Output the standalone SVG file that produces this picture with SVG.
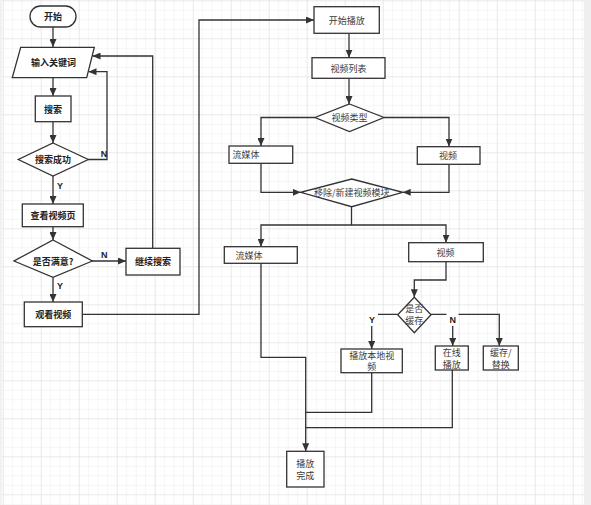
<svg xmlns="http://www.w3.org/2000/svg" width="591" height="505" viewBox="0 0 591 505">
<defs>
<pattern id="minor" x="2.7" y="0.3" width="9.5" height="9.5" patternUnits="userSpaceOnUse">
<path d="M0,0 H9.5 M0,0 V9.5" fill="none" stroke="#ececec" stroke-width="1"/>
</pattern>
<pattern id="major" x="2.7" y="0.3" width="38" height="38" patternUnits="userSpaceOnUse">
<path d="M0,0 H38 M0,0 V38" fill="none" stroke="#dfdfdf" stroke-width="1"/>
</pattern>
<marker id="arr" markerWidth="8" markerHeight="7" refX="8" refY="3.5" orient="auto" markerUnits="userSpaceOnUse">
<path d="M0,0 L8,3.5 L0,7 z" fill="#333"/>
</marker>
</defs>
<style>
.shape{fill:#fff;stroke:#333;stroke-width:1.3}
.conn path{fill:none;stroke:#333;stroke-width:1.3}
.arrow{marker-end:url(#arr)}
text{font-family:"Noto Sans CJK SC","Noto Sans",sans-serif;font-size:9px;text-anchor:middle;dominant-baseline:central}
.l{font-weight:bold;fill:#222}
.r{fill:#3a3a3a}
.lab{font-family:"Liberation Sans",sans-serif;font-weight:bold;font-size:9px;fill:#222}
</style>
<rect width="591" height="505" fill="#fff"/>
<rect width="584" height="505" fill="url(#minor)"/>
<rect width="584" height="505" fill="url(#major)"/>
<rect x="584" y="0" width="7" height="505" fill="#efefef"/>
<rect x="0" y="0" width="2" height="505" fill="#f2f2f2"/>

<g class="conn" id="connectors">
<path class="arrow" d="M53,27 V47"/>
<path class="arrow" d="M53,78 V96"/>
<path class="arrow" d="M53,122 V143"/>
<path class="arrow" d="M88,159.5 H107 V71.7 H88.5"/>
<path class="arrow" d="M53,176 V204"/>
<path class="arrow" d="M53,227 V240"/>
<path class="arrow" d="M92,261 H126"/>
<path class="arrow" d="M152.7,248.3 V56 H92.5"/>
<path class="arrow" d="M53,277.3 V302"/>
<path class="arrow" d="M82.3,314.3 H199 V20 H314"/>
<path class="arrow" d="M349,33.3 V57.7"/>
<path class="arrow" d="M349,78.3 V104"/>
<path class="arrow" d="M315,117.5 H261 V146"/>
<path class="arrow" d="M384,117.5 H449 V146.5"/>
<path class="arrow" d="M261,163.3 V192.3 H300.7"/>
<path class="arrow" d="M449,164.3 V192.3 H402.7"/>
<path class="arrow" d="M351.5,206.7 V225 H261 V246.7"/>
<path class="arrow" d="M351.5,225 H446 V242.7"/>
<path class="arrow" d="M446,261.7 V280 H414.3 V297.3"/>
<path class="arrow" d="M397.7,314.3 H371.7 V349"/>
<path class="arrow" d="M431,314.3 H499.3 V346"/>
<path class="arrow" d="M452.7,314.3 V346"/>
<path class="arrow" d="M261,263.3 V357.3 H305.7 V451.3"/>
<path d="M371.7,372.7 V412.3 H305.7"/>
<path d="M452.3,370 V427.7 H305.7"/>
<text class="lab" x="104" y="154">N</text>
<text class="lab" x="60" y="186">Y</text>
<text class="lab" x="104.3" y="255">N</text>
<text class="lab" x="60" y="286">Y</text>
<rect x="366" y="313" width="12" height="13" fill="#fff"/>
<text class="lab" x="372" y="319.5">Y</text>
<rect x="446.5" y="313" width="12" height="13" fill="#fff"/>
<text class="lab" x="452.7" y="320">N</text>
</g>

<g id="start"><rect class="shape" x="30" y="6" width="46" height="21" rx="10.5"/><text class="l" x="53" y="16.5">开始</text></g>
<g id="input"><path class="shape" d="M20.7,47.3 L94.3,47.3 L86.7,77.7 L12.3,77.7 Z"/><text class="l" x="53.5" y="62.5">输入关键词</text></g>
<g id="search"><rect class="shape" x="35.3" y="96" width="35.7" height="25.7"/><text class="l" x="53" y="109">搜索</text></g>
<g id="searchok"><path class="shape" d="M53,143 L88.3,159.5 L53,176 L18.3,159.5 Z"/><text class="l" x="53" y="159.5">搜索成功</text></g>
<g id="viewpage"><rect class="shape" x="22.3" y="204" width="61" height="22.7"/><text class="l" x="53" y="215.5">查看视频页</text></g>
<g id="satisfied"><path class="shape" d="M53,240 L92.3,261 L53,277.3 L14,261 Z"/><text class="l" x="53" y="261">是否满意?</text></g>
<g id="continue"><rect class="shape" x="126" y="248.3" width="54" height="26.7"/><text class="l" x="153" y="261.7">继续搜索</text></g>
<g id="watch"><rect class="shape" x="24.3" y="302" width="58" height="24.7"/><text class="l" x="53.3" y="314.5">观看视频</text></g>

<g id="startplay"><rect class="shape" x="314" y="6.7" width="65.3" height="26.6"/><text class="r" x="346.7" y="20">开始播放</text></g>
<g id="videolist"><rect class="shape" x="312" y="57.7" width="73" height="20.6"/><text class="r" x="348.5" y="68">视频列表</text></g>
<g id="videotype"><path class="shape" d="M349.5,104 L384,117.5 L349.5,131.5 L315,117.5 Z"/><text class="r" x="349.5" y="117.5">视频类型</text></g>
<g id="stream1"><rect class="shape" x="229" y="146" width="63.7" height="17.3"/><text class="r" x="246" y="154.7">流媒体</text></g>
<g id="video1"><rect class="shape" x="417.3" y="146.7" width="62.7" height="17.6"/><text class="r" x="448" y="155.5">视频</text></g>
<g id="module"><path class="shape" d="M351.7,179 L402.7,192.3 L351.7,206.7 L300.7,192.3 Z"/><text class="r" x="351.7" y="192.3">移除/新建视频模块</text></g>
<g id="stream2"><rect class="shape" x="224.3" y="246.7" width="73" height="16.6"/><text class="r" x="249" y="255">流媒体</text></g>
<g id="video2"><rect class="shape" x="408.7" y="242.7" width="74.6" height="19"/><text class="r" x="445.5" y="252.2">视频</text></g>
<g id="cached"><path class="shape" d="M414.3,297.3 L431,314.8 L414.3,332.7 L397.7,314.8 Z"/><text class="r" x="414.3" y="308.8">是否</text><text class="r" x="414.3" y="320.8">缓存</text></g>
<g id="local"><rect class="shape" x="341" y="349" width="61.3" height="23.7"/><text class="r" x="371.7" y="355">播放本地视</text><text class="r" x="371.7" y="366.8">频</text></g>
<g id="online"><rect class="shape" x="435.3" y="346" width="33" height="24"/><text class="r" x="451.8" y="352">在线</text><text class="r" x="451.8" y="364">播放</text></g>
<g id="cache"><rect class="shape" x="483.3" y="346" width="35" height="24"/><text class="r" x="500.8" y="352">缓存/</text><text class="r" x="500.8" y="364">替换</text></g>
<g id="done"><rect class="shape" x="286.7" y="451.3" width="37.3" height="35.7"/><text class="r" x="305.3" y="463.5">播放</text><text class="r" x="305.3" y="475.5">完成</text></g>
</svg>
